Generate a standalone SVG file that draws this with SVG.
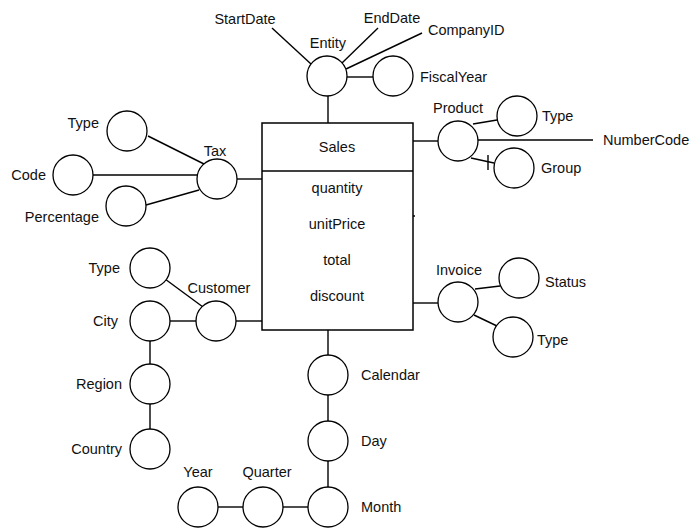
<svg xmlns="http://www.w3.org/2000/svg" width="689" height="528" viewBox="0 0 689 528">
<style>
.n{fill:#fff;stroke:#000;stroke-width:1.3}
.b{fill:#fff;stroke:#000;stroke-width:1.5}
.c line{stroke:#000;stroke-width:1.4}
text{font-family:"Liberation Sans",Arial,sans-serif;font-size:14.5px;fill:#111;dominant-baseline:central}
.m{text-anchor:middle}
.e{text-anchor:end}
</style>
<rect width="689" height="528" fill="#fff"/>
<g class="c" id="connectors">
<line x1="328" y1="96" x2="328" y2="123"/>
<line x1="272" y1="28" x2="311" y2="64"/>
<line x1="378" y1="28" x2="342" y2="63"/>
<line x1="422" y1="33" x2="346" y2="69"/>
<line x1="347" y1="77" x2="373" y2="77"/>
<line x1="148" y1="136" x2="204" y2="164"/>
<line x1="93" y1="175" x2="197" y2="175"/>
<line x1="146" y1="205" x2="199" y2="190"/>
<line x1="237" y1="179" x2="262" y2="179"/>
<line x1="413" y1="141" x2="438" y2="141"/>
<line x1="473" y1="124" x2="497" y2="120"/>
<line x1="478" y1="140" x2="593" y2="140"/>
<line x1="471" y1="158" x2="494" y2="163"/>
<line x1="488" y1="155" x2="488" y2="170"/>
<line x1="413" y1="303" x2="438" y2="303"/>
<line x1="475" y1="289" x2="500" y2="286"/>
<line x1="474" y1="315" x2="497" y2="326"/>
<line x1="165" y1="279" x2="203" y2="307"/>
<line x1="170" y1="321" x2="196" y2="321"/>
<line x1="236" y1="321" x2="262" y2="321"/>
<line x1="150" y1="341" x2="150" y2="364"/>
<line x1="150" y1="404" x2="150" y2="429"/>
<line x1="328" y1="330" x2="328" y2="355"/>
<line x1="328" y1="395" x2="328" y2="421"/>
<line x1="328" y1="461" x2="328" y2="487"/>
<line x1="283" y1="507" x2="308" y2="507"/>
<line x1="218" y1="507" x2="243" y2="507"/>
<line x1="413" y1="216" x2="415" y2="216"/>
</g>
<g id="sales">
<rect class="b" x="262" y="123" width="151" height="207"/>
<line x1="262" y1="171" x2="413" y2="171" stroke="#000" stroke-width="1.5"/>
<text class="m" x="337" y="147">Sales</text>
<text class="m" x="337" y="188">quantity</text>
<text class="m" x="337" y="224">unitPrice</text>
<text class="m" x="337" y="260">total</text>
<text class="m" x="337" y="296">discount</text>
</g>
<g id="entity"><circle class="n" cx="327" cy="76" r="20"/><text class="m" x="328" y="43">Entity</text></g>
<g id="startdate"><text class="m" x="245" y="19">StartDate</text></g>
<g id="enddate"><text class="m" x="392" y="18">EndDate</text></g>
<g id="companyid"><text x="428" y="30">CompanyID</text></g>
<g id="fiscalyear"><circle class="n" cx="393" cy="76" r="20"/><text x="420" y="77">FiscalYear</text></g>
<g id="tax"><circle class="n" cx="217" cy="179" r="20"/><text class="m" x="215" y="151">Tax</text></g>
<g id="tax-type"><circle class="n" cx="127" cy="131" r="20"/><text class="e" x="99" y="123">Type</text></g>
<g id="tax-code"><circle class="n" cx="73" cy="175" r="20"/><text class="e" x="46" y="175">Code</text></g>
<g id="tax-percentage"><circle class="n" cx="126" cy="206" r="20"/><text class="e" x="99" y="217">Percentage</text></g>
<g id="product"><circle class="n" cx="458" cy="141" r="20"/><text class="m" x="458" y="108">Product</text></g>
<g id="product-type"><circle class="n" cx="517" cy="116" r="20"/><text x="542" y="116">Type</text></g>
<g id="numbercode"><text x="603" y="140">NumberCode</text></g>
<g id="product-group"><circle class="n" cx="514" cy="168" r="20"/><text x="541" y="168">Group</text></g>
<g id="invoice"><circle class="n" cx="458" cy="302" r="20"/><text class="m" x="459" y="270">Invoice</text></g>
<g id="invoice-status"><circle class="n" cx="519" cy="278" r="20"/><text x="545" y="282">Status</text></g>
<g id="invoice-type"><circle class="n" cx="513" cy="337" r="20"/><text x="537" y="340">Type</text></g>
<g id="customer"><circle class="n" cx="216" cy="321" r="20"/><text class="m" x="219" y="288">Customer</text></g>
<g id="customer-type"><circle class="n" cx="150" cy="268" r="20"/><text class="e" x="120" y="268">Type</text></g>
<g id="city"><circle class="n" cx="150" cy="321" r="20"/><text class="e" x="118" y="321">City</text></g>
<g id="region"><circle class="n" cx="150" cy="384" r="20"/><text class="e" x="122" y="384">Region</text></g>
<g id="country"><circle class="n" cx="150" cy="449" r="20"/><text class="e" x="122" y="449">Country</text></g>
<g id="calendar"><circle class="n" cx="328" cy="375" r="20"/><text x="361" y="375">Calendar</text></g>
<g id="day"><circle class="n" cx="328" cy="441" r="20"/><text x="361" y="441">Day</text></g>
<g id="month"><circle class="n" cx="328" cy="507" r="20"/><text x="361" y="507">Month</text></g>
<g id="quarter"><circle class="n" cx="263" cy="507" r="20"/><text class="m" x="267" y="472">Quarter</text></g>
<g id="year"><circle class="n" cx="198" cy="507" r="20"/><text class="m" x="198" y="472">Year</text></g>
</svg>
